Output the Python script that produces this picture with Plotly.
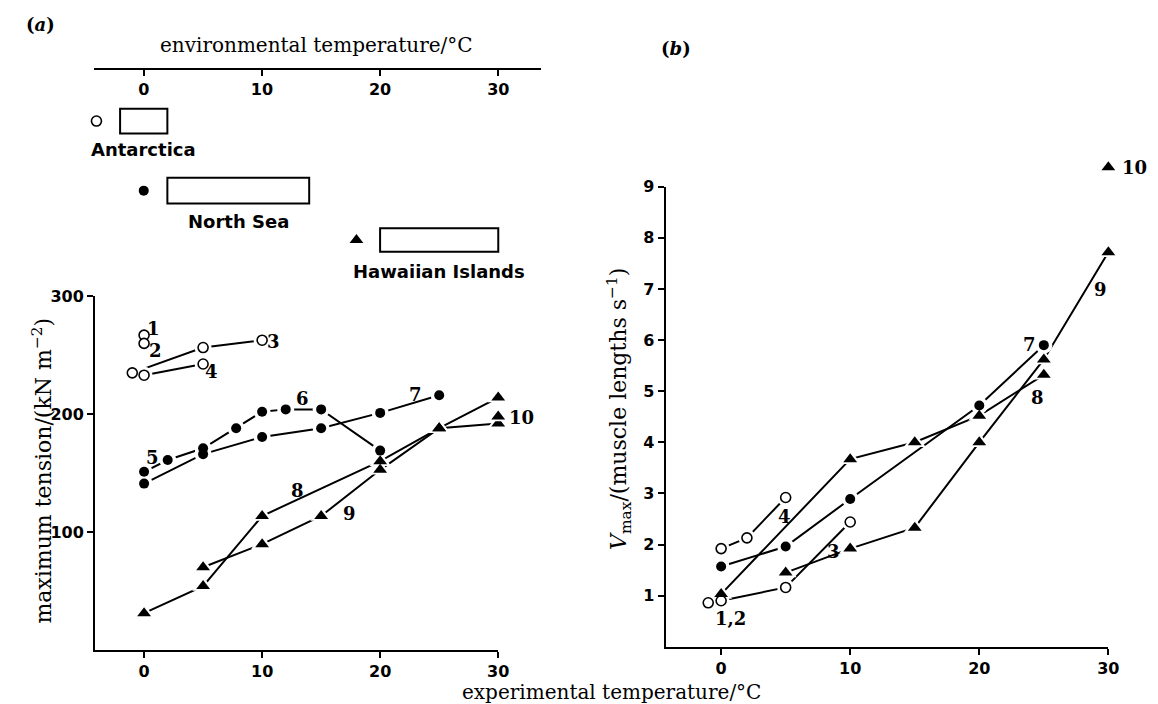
import plotly.graph_objects as go

# ---------------- data ----------------
# environmental temperature ranges (top legend bars)
env_names = ["Antarctica", "North Sea", "Hawaiian Islands"]
env_lo = [-2, 2, 20]
env_hi = [2, 14, 30]

# panel (a): maximum tension (kN m-2) vs experimental temperature
a_s1_x = [0]; a_s1_y = [267]
a_s2_x = [0]; a_s2_y = [260]
a_s3_x = [-1, 5, 10]; a_s3_y = [235, 256.5, 262.7]
a_s4_x = [0, 5]; a_s4_y = [233, 242.5]
a_s56_x = [0, 2, 5, 7.8, 10, 12, 15, 20]; a_s56_y = [151, 161, 171, 188, 202, 204, 204, 169]
a_s7_x = [0, 5, 10, 15, 20, 25]; a_s7_y = [141, 166, 180.5, 188, 201, 216]
a_s8_x = [0, 5, 10, 20, 25, 30]; a_s8_y = [31, 54, 113.5, 160, 188, 214]
a_s9_x = [5, 10, 15, 20, 25, 30]; a_s9_y = [70, 89.6, 113.5, 152.7, 188, 192]
a_s10_x = [30]; a_s10_y = [198]
a_lab_txt = ["1", "2", "3", "4", "5", "6", "7", "8", "9", "10"]
a_lab_x = [0.8, 1.0, 11.0, 5.7, 0.7, 13.4, 23.0, 13.0, 17.4, 32.0]
a_lab_y = [273, 254, 262, 236, 163, 213, 217, 135, 116, 197]

# panel (b): Vmax (muscle lengths s-1) vs experimental temperature
b_s12_x = [-1]; b_s12_y = [0.86]
b_s3_x = [0, 5, 10]; b_s3_y = [0.90, 1.16, 2.44]
b_s4_x = [0, 2, 5]; b_s4_y = [1.92, 2.13, 2.92]
b_s7_x = [0, 5, 10, 20, 25]; b_s7_y = [1.57, 1.96, 2.89, 4.72, 5.90]
b_s8_x = [0, 10, 15, 20, 25]; b_s8_y = [1.03, 3.67, 4.0, 4.52, 5.32]
b_s9_x = [5, 10, 15, 20, 25, 30]; b_s9_y = [1.45, 1.92, 2.33, 4.0, 5.62, 7.72]
b_s10_x = [30]; b_s10_y = [9.38]
b_lab_txt = ["1,2", "3", "4", "7", "8", "9", "10"]
b_lab_x = [0.7, 8.7, 4.9, 23.9, 24.5, 29.4, 32.0]
b_lab_y = [0.55, 1.87, 2.55, 5.91, 4.88, 6.98, 9.38]

xticks = [0, 10, 20, 30]
a_yticks = [100, 200, 300]
b_yticks = [1, 2, 3, 4, 5, 6, 7, 8, 9]

# ---------------- geometry (pixels) ----------------
W, H = 1158, 704
A_XR = [-4.15, 30]; A_PX = [96, 503]
A_YR = [0, 300]; A_PY = [649, 291]
B_XR = [-4.3, 30]; B_PX = [672, 1119]
B_YR = [0, 9]; B_PY = [646, 180]
ENV_XR = [-4.2, 33.6]; ENV_PX = [95, 546]
ENV_LINE_Y = 61


def ext_range(r, p, p_new_end):
    s = (r[1] - r[0]) / (p[1] - p[0])
    return [r[0], r[1] + (p_new_end - p[1]) * s]


# ---------------- styles ----------------
OPEN = dict(symbol="circle", size=10, color="white", line=dict(color="black", width=1.6))
FILL = dict(symbol="circle", size=10, color="black")
TRI = dict(symbol="triangle-up", size=12, color="black")
LINE = dict(color="black", width=2)
TICKFONT = dict(family="DejaVu Sans", size=16, color="black", weight="bold")
SERIF = "DejaVu Serif"
NUMFONT = dict(family=SERIF, size=18, color="black", weight="bold")

series = [
    (a_s1_x, a_s1_y, OPEN, "x", "y"),
    (a_s2_x, a_s2_y, OPEN, "x", "y"),
    (a_s3_x, a_s3_y, OPEN, "x", "y"),
    (a_s4_x, a_s4_y, OPEN, "x", "y"),
    (a_s7_x, a_s7_y, FILL, "x", "y"),
    (a_s56_x, a_s56_y, FILL, "x", "y"),
    (a_s8_x, a_s8_y, TRI, "x", "y"),
    (a_s9_x, a_s9_y, TRI, "x", "y"),
    (a_s10_x, a_s10_y, TRI, "x5", "y"),
    (b_s12_x, b_s12_y, OPEN, "x2", "y2"),
    (b_s3_x, b_s3_y, OPEN, "x2", "y2"),
    (b_s4_x, b_s4_y, OPEN, "x2", "y2"),
    (b_s7_x, b_s7_y, FILL, "x2", "y2"),
    (b_s8_x, b_s8_y, TRI, "x2", "y2"),
    (b_s9_x, b_s9_y, TRI, "x2", "y2"),
    (b_s10_x, b_s10_y, TRI, "x4", "y4"),
]

fig = go.Figure()
# 1) connecting lines
for x, y, m, xa, ya in series:
    if len(x) > 1:
        fig.add_trace(go.Scatter(x=x, y=y, xaxis=xa, yaxis=ya, mode="lines", line=LINE,
                                 showlegend=False, hoverinfo="skip", cliponaxis=False))
# 2) white halos so that lines stop short of the symbols, as in the original drawing
for x, y, m, xa, ya in series:
    fig.add_trace(go.Scatter(x=x, y=y, xaxis=xa, yaxis=ya, mode="markers",
                             marker=dict(symbol=m["symbol"], size=m["size"] + 7, color="white"),
                             showlegend=False, hoverinfo="skip", cliponaxis=False))
# 3) symbols
for x, y, m, xa, ya in series:
    fig.add_trace(go.Scatter(x=x, y=y, xaxis=xa, yaxis=ya, mode="markers", marker=m,
                             showlegend=False, cliponaxis=False))

annotations = []
for t, x, y in zip(a_lab_txt, a_lab_x, a_lab_y):
    annotations.append(dict(text=t, x=x, y=y, xref="x5", yref="y", showarrow=False,
                            xanchor="center", yanchor="middle", font=NUMFONT))
for t, x, y in zip(b_lab_txt, b_lab_x, b_lab_y):
    annotations.append(dict(text=t, x=x, y=y, xref="x4", yref="y4", showarrow=False,
                            xanchor="center", yanchor="middle", font=NUMFONT))

# ---------------- top "environmental temperature" legend ----------------
rect_y0 = [101, 171, 222]
rect_y1 = [126, 197, 246]
lab_py = [142, 215, 266]
glyphs = [OPEN, FILL, TRI]
shapes = []
for i in range(3):
    shapes.append(dict(type="rect", xref="x3", yref="y3", x0=env_lo[i], x1=env_hi[i],
                       y0=rect_y0[i], y1=rect_y1[i], line=dict(color="black", width=2),
                       fillcolor="white"))
    fig.add_trace(go.Scatter(x=[env_lo[i] - 2.0], y=[(rect_y0[i] + rect_y1[i]) / 2],
                             xaxis="x3", yaxis="y3", mode="markers", marker=glyphs[i],
                             showlegend=False, cliponaxis=False))
    annotations.append(dict(text=env_names[i], x=(env_lo[i] + env_hi[i]) / 2, y=lab_py[i],
                            xref="x3", yref="y3", showarrow=False, xanchor="center",
                            yanchor="middle",
                            font=dict(family="DejaVu Sans", size=18, color="black", weight="bold")))

annotations += [
    dict(text="environmental temperature/°C", x=320 / W, y=1 - 36 / H, xref="paper", yref="paper",
         showarrow=False, xanchor="center", yanchor="middle", font=dict(family=SERIF, size=20, color="black")),
    dict(text="experimental temperature/°C", x=617 / W, y=1 - 692 / H, xref="paper", yref="paper",
         showarrow=False, xanchor="center", yanchor="middle", font=dict(family=SERIF, size=20, color="black")),
    dict(text="maximum tension/(kN m<sup>−2</sup>)", x=42 / W, y=1 - 468 / H, xref="paper", yref="paper",
         showarrow=False, xanchor="center", yanchor="middle", textangle=-90,
         font=dict(family=SERIF, size=22, color="black")),
    dict(text="<i>V</i><sub>max</sub>/(muscle lengths s<sup>−1</sup>)", x=625 / W, y=1 - 405 / H,
         xref="paper", yref="paper", showarrow=False, xanchor="center", yanchor="middle", textangle=-90,
         font=dict(family=SERIF, size=22, color="black")),
    dict(text="(<i>a</i>)", x=41 / W, y=1 - 16 / H, xref="paper", yref="paper", showarrow=False,
         xanchor="center", yanchor="middle", font=dict(family=SERIF, size=18, color="black", weight="bold")),
    dict(text="(<i>b</i>)", x=682 / W, y=1 - 40 / H, xref="paper", yref="paper", showarrow=False,
         xanchor="center", yanchor="middle", font=dict(family=SERIF, size=18, color="black", weight="bold")),
]

axis_common = dict(showline=True, linecolor="black", linewidth=2, showgrid=False, zeroline=False,
                   ticks="outside", ticklen=6, tickwidth=2, tickcolor="black", tickfont=TICKFONT)
hidden = dict(visible=False, showgrid=False, zeroline=False)


def dom_x(p):
    return [p[0] / W, p[1] / W]


def dom_y(p):
    return [1 - p[0] / H, 1 - p[1] / H]


fig.update_layout(
    width=W, height=H, autosize=False,
    margin=dict(l=0, r=0, t=0, b=0),
    paper_bgcolor="white", plot_bgcolor="rgba(0,0,0,0)",
    xaxis=dict(domain=dom_x(A_PX), range=A_XR, tickvals=xticks, anchor="y", **axis_common),
    yaxis=dict(domain=dom_y(A_PY), range=A_YR, tickvals=a_yticks, anchor="x", **axis_common),
    xaxis2=dict(domain=dom_x(B_PX), range=B_XR, tickvals=xticks, anchor="y2", **axis_common),
    yaxis2=dict(domain=dom_y(B_PY), range=B_YR, tickvals=b_yticks, anchor="x2", **axis_common),
    xaxis3=dict(domain=dom_x(ENV_PX), range=ENV_XR, tickvals=xticks, anchor="free",
                position=1 - ENV_LINE_Y / H, side="bottom", **axis_common),
    yaxis3=dict(domain=[0, 1], range=[H, 0], anchor="x3", **hidden),
    # hidden overlay axes with identical scales, extended so outside labels/points show
    xaxis5=dict(domain=dom_x([A_PX[0], 580]), range=ext_range(A_XR, A_PX, 580), anchor="y", **hidden),
    xaxis4=dict(domain=dom_x([B_PX[0], 1156]), range=ext_range(B_XR, B_PX, 1156), anchor="y4", **hidden),
    yaxis4=dict(domain=dom_y([B_PY[0], 120]),
                range=[B_YR[0], B_YR[1] + (B_PY[1] - 120) * (B_YR[1] - B_YR[0]) / (B_PY[0] - B_PY[1])],
                anchor="x4", **hidden),
    shapes=shapes,
    annotations=annotations,
)

fig.write_html("out.html", config={"displayModeBar": False},
               post_script="document.body.style.margin='0px';")
